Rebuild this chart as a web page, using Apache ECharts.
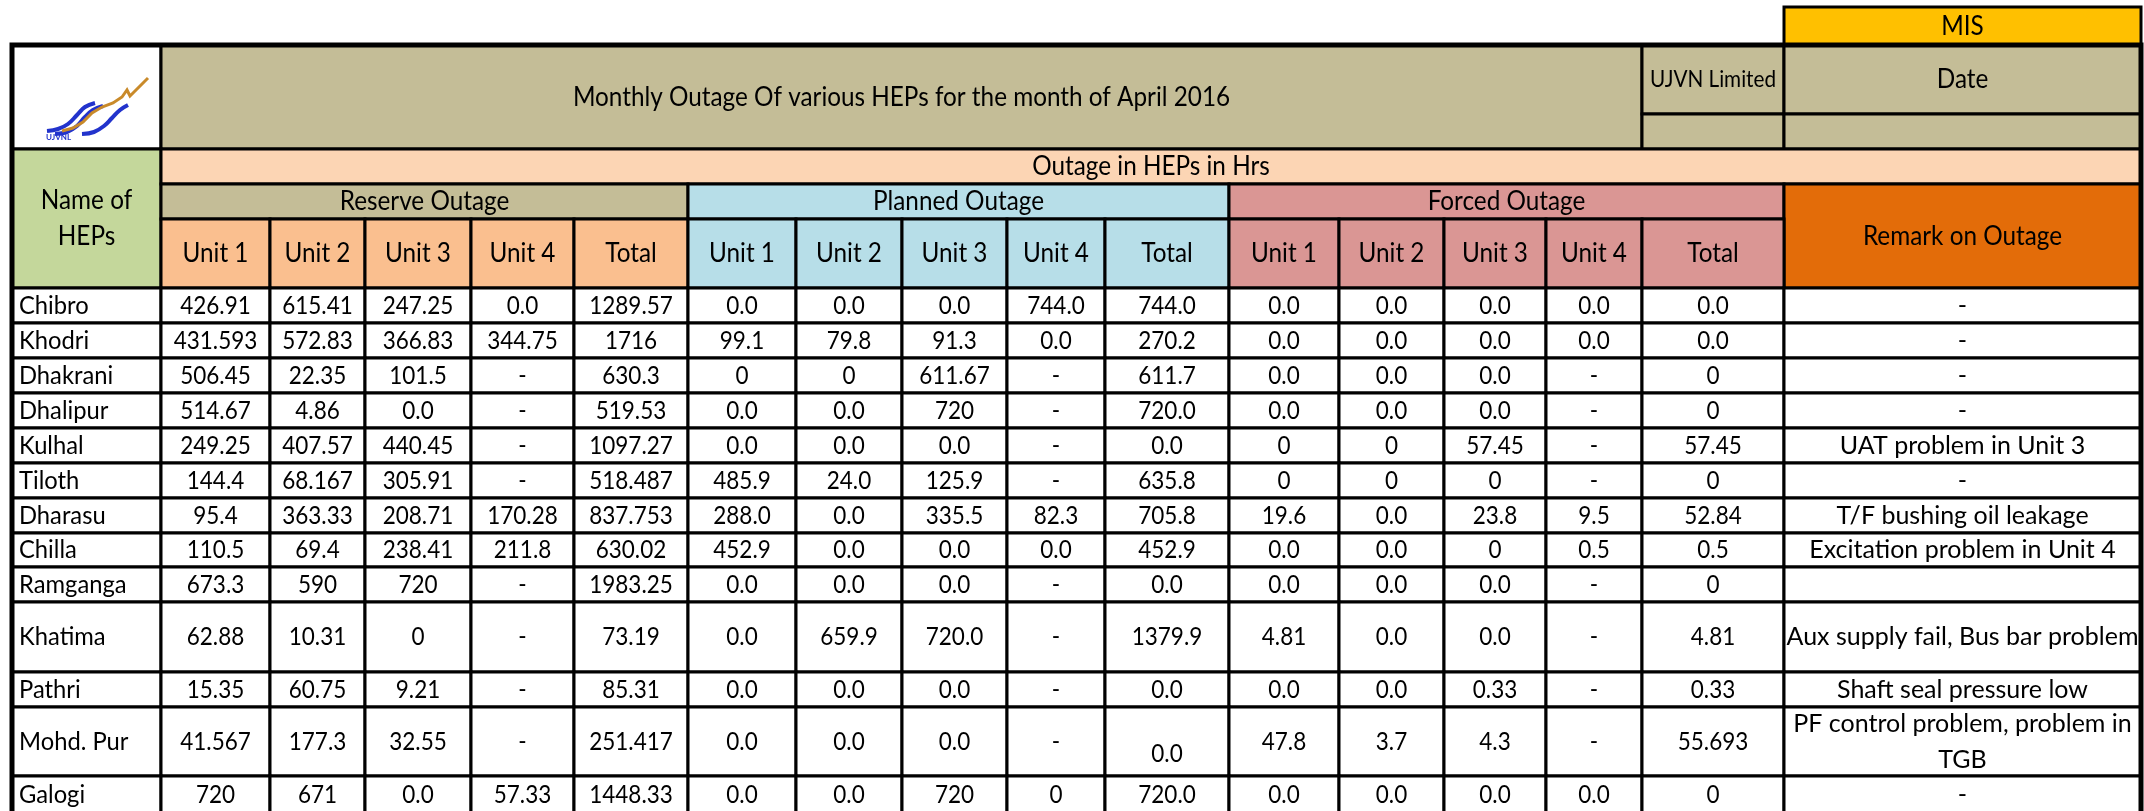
<!DOCTYPE html>
<html>
<head>
<meta charset="utf-8">
<title>Monthly Outage</title>
<script src="https://cdn.jsdelivr.net/npm/echarts@6/dist/echarts.min.js"></script>
<style>
  html, body { margin: 0; padding: 0; background: #fff; }
  #main { width: 2144px; height: 811px; }
</style>
</head>
<body>
<div id="main"></div>
<script>
// 电站名称
const names = ['Chibro', 'Khodri', 'Dhakrani', 'Dhalipur', 'Kulhal', 'Tiloth', 'Dharasu', 'Chilla', 'Ramganga', 'Khatima', 'Pathri', 'Mohd. Pur', 'Galogi']
// 表头文字
const unitLabels = ['Unit 1', 'Unit 2', 'Unit 3', 'Unit 4', 'Total']
const title = 'Monthly Outage Of various HEPs for the month of April 2016'
// Reserve Outage (Unit 1..4, Total)
const reserve = [
  ['426.91', '615.41', '247.25', '0.0', '1289.57'],
  ['431.593', '572.83', '366.83', '344.75', '1716'],
  ['506.45', '22.35', '101.5', '-', '630.3'],
  ['514.67', '4.86', '0.0', '-', '519.53'],
  ['249.25', '407.57', '440.45', '-', '1097.27'],
  ['144.4', '68.167', '305.91', '-', '518.487'],
  ['95.4', '363.33', '208.71', '170.28', '837.753'],
  ['110.5', '69.4', '238.41', '211.8', '630.02'],
  ['673.3', '590', '720', '-', '1983.25'],
  ['62.88', '10.31', '0', '-', '73.19'],
  ['15.35', '60.75', '9.21', '-', '85.31'],
  ['41.567', '177.3', '32.55', '-', '251.417'],
  ['720', '671', '0.0', '57.33', '1448.33']
]
// Planned Outage
const planned = [
  ['0.0', '0.0', '0.0', '744.0', '744.0'],
  ['99.1', '79.8', '91.3', '0.0', '270.2'],
  ['0', '0', '611.67', '-', '611.7'],
  ['0.0', '0.0', '720', '-', '720.0'],
  ['0.0', '0.0', '0.0', '-', '0.0'],
  ['485.9', '24.0', '125.9', '-', '635.8'],
  ['288.0', '0.0', '335.5', '82.3', '705.8'],
  ['452.9', '0.0', '0.0', '0.0', '452.9'],
  ['0.0', '0.0', '0.0', '-', '0.0'],
  ['0.0', '659.9', '720.0', '-', '1379.9'],
  ['0.0', '0.0', '0.0', '-', '0.0'],
  ['0.0', '0.0', '0.0', '-', '0.0'],
  ['0.0', '0.0', '720', '0', '720.0']
]
// Forced Outage
const forced = [
  ['0.0', '0.0', '0.0', '0.0', '0.0'],
  ['0.0', '0.0', '0.0', '0.0', '0.0'],
  ['0.0', '0.0', '0.0', '-', '0'],
  ['0.0', '0.0', '0.0', '-', '0'],
  ['0', '0', '57.45', '-', '57.45'],
  ['0', '0', '0', '-', '0'],
  ['19.6', '0.0', '23.8', '9.5', '52.84'],
  ['0.0', '0.0', '0', '0.5', '0.5'],
  ['0.0', '0.0', '0.0', '-', '0'],
  ['4.81', '0.0', '0.0', '-', '4.81'],
  ['0.0', '0.0', '0.33', '-', '0.33'],
  ['47.8', '3.7', '4.3', '-', '55.693'],
  ['0.0', '0.0', '0.0', '0.0', '0']
]
// 备注
const remarks = ['-', '-', '-', '-', 'UAT problem in Unit 3', '-', 'T/F bushing oil leakage', 'Excitation problem in Unit 4', '', 'Aux supply fail, Bus bar problem', 'Shaft seal pressure low', 'PF control problem, problem in\nTGB', '-']

// 版式：列边界、行边界（像素）
const colX = [12, 161, 270, 365, 471, 574, 688, 796, 902, 1007, 1105, 1229, 1339, 1444, 1546, 1642, 1784, 2141]
const headY = [7, 45, 114, 149, 184, 219, 288]
const rowY = [288, 323, 358, 393, 428, 463, 498, 533, 567, 602, 672, 707, 776, 813]
const colors = {
  tan: '#C4BD97', peach: '#FCD5B4', green: '#C4D79B', mis: '#FFC000',
  reserve: '#FABF8F', planned: '#B7DEE8', forced: '#DA9694', remark: '#E36C09', white: '#FFFFFF'
}
// 标志折线（相对于标志格子左上角）
const logoBlue = [
  [[35, 86], [46, 84], [56, 79], [65, 70], [73, 62], [83, 58]],
  [[43, 89], [55, 87], [65, 81], [73, 72], [81, 65], [91, 61]],
  [[70, 89], [82, 87], [92, 81], [100, 73], [108, 65], [116, 60]]
]
const logoOrange = [[50, 86], [61, 83], [71, 77], [80, 68], [90, 62], [101, 58], [110, 52], [115, 45], [118, 51], [136, 33]]

// 组装所有单元格
var cells = []
function addCell(x0, y0, x1, y1, text, fill, opt) {
  cells.push(Object.assign({ box: [x0, y0, x1, y1], text: text, fill: fill, align: 'center', valign: 'middle', size: 25, sx: 0.9 }, opt || {}))
}
const head = { size: 27 }
addCell(colX[16], headY[0], colX[17], headY[1], 'MIS', colors.mis, head)
addCell(colX[0], headY[1], colX[1], headY[3], '', colors.white, { logo: true })
addCell(colX[1], headY[1], colX[15], headY[3], title, colors.tan, head)
addCell(colX[15], headY[1], colX[16], headY[2], 'UJVN Limited', colors.tan, { size: 23 })
addCell(colX[15], headY[2], colX[16], headY[3], '', colors.tan)
addCell(colX[16], headY[1], colX[17], headY[2], 'Date', colors.tan, head)
addCell(colX[16], headY[2], colX[17], headY[3], '', colors.tan)
addCell(colX[0], headY[3], colX[1], headY[6], 'Name of\nHEPs', colors.green, head)
addCell(colX[1], headY[3], colX[17], headY[4], 'Outage in HEPs in Hrs', colors.peach, head)
addCell(colX[1], headY[4], colX[6], headY[5], 'Reserve Outage', colors.tan, head)
addCell(colX[6], headY[4], colX[11], headY[5], 'Planned Outage', colors.planned, head)
addCell(colX[11], headY[4], colX[16], headY[5], 'Forced Outage', colors.forced, head)
addCell(colX[16], headY[4], colX[17], headY[6], 'Remark on Outage', colors.remark, head)
const groupFill = [colors.reserve, colors.planned, colors.forced]
for (let g = 0; g < 3; g++) {
  for (let u = 0; u < unitLabels.length; u++) {
    let c = 1 + g * 5 + u
    addCell(colX[c], headY[5], colX[c + 1], headY[6], unitLabels[u], groupFill[g], head)
  }
}
// 数据行
names.forEach(function(name, i) {
  let y0 = rowY[i], y1 = rowY[i + 1]
  addCell(colX[0], y0, colX[1], y1, name, colors.white, { align: 'left', sx: 0.95 })
  const groups = [reserve[i], planned[i], forced[i]]
  groups.forEach(function(vals, g) {
    vals.forEach(function(v, u) {
      let c = 1 + g * 5 + u
      // Mohd. Pur 的 Planned Total 靠下
      let opt = (name === 'Mohd. Pur' && g === 1 && u === 4) ? { valign: 'bottom' } : {}
      addCell(colX[c], y0, colX[c + 1], y1, v, colors.white, opt)
    })
  })
  addCell(colX[16], y0, colX[17], y1, remarks[i], colors.white, { sx: 1 })
})

var chartDom = document.getElementById('main')
var myChart = echarts.init(chartDom)
var option

function renderCell(params, api) {
  const c = cells[params.dataIndex]
  const p0 = api.coord([api.value(0), api.value(1)])
  const p1 = api.coord([api.value(2), api.value(3)])
  let tx = (p0[0] + p1[0]) / 2
  let ty = (p0[1] + p1[1]) / 2
  let va = 'middle'
  if (c.align === 'left') tx = p0[0] + 7
  if (c.valign === 'bottom') { ty = p1[1] - 4; va = 'bottom' }
  const children = [{
    type: 'rect',
    shape: { x: p0[0], y: p0[1], width: p1[0] - p0[0], height: p1[1] - p0[1] },
    style: { fill: c.fill, stroke: '#000', lineWidth: 3 }
  }, {
    // 字体略窄略高，接近原表
    type: 'text',
    x: tx, y: ty, scaleX: c.sx,
    style: {
      x: 0, y: 0, text: c.text, fill: '#000',
      fontSize: c.size, fontFamily: 'Lato',
      align: c.align, verticalAlign: va, lineHeight: 36
    }
  }]
  if (c.logo) {
    const ox = p0[0], oy = p0[1]
    logoBlue.forEach(function(line) {
      children.push({ type: 'polyline', shape: { points: line.map(p => [ox + p[0], oy + p[1]]), smooth: 0.4 }, style: { stroke: '#2233CC', lineWidth: 4, fill: 'none' } })
    })
    children.push({ type: 'polyline', shape: { points: logoOrange.map(p => [ox + p[0], oy + p[1]]) }, style: { stroke: '#C98A2A', lineWidth: 3, fill: 'none' } })
    children.push({ type: 'text', style: { x: ox + 34, y: oy + 92, text: 'UJVNL', fill: '#2233CC', fontSize: 8, fontWeight: 'bold', fontFamily: 'Lato', verticalAlign: 'middle' } })
  }
  return { type: 'group', children: children }
}

option = {
  animation: false,
  grid: { left: 0, right: 0, top: 0, bottom: 0 },
  xAxis: { type: 'value', min: 0, max: 2144, show: false },
  yAxis: { type: 'value', min: 0, max: 811, inverse: true, show: false },
  series: [{
    type: 'custom',
    clip: false,
    renderItem: renderCell,
    data: cells.map(c => c.box)
  }, {
    // 外框粗线
    type: 'custom',
    clip: false,
    renderItem: function(params, api) {
      const p0 = api.coord([api.value(0), api.value(1)])
      const p1 = api.coord([api.value(2), api.value(3)])
      return {
        type: 'rect',
        shape: { x: p0[0], y: p0[1], width: p1[0] - p0[0], height: p1[1] - p0[1] },
        style: { fill: 'none', stroke: '#000', lineWidth: 5 }
      }
    },
    data: [[colX[0], headY[1], colX[17], rowY[rowY.length - 1] + 10]]
  }]
}
myChart.setOption(option)
</script>
</body>
</html>
